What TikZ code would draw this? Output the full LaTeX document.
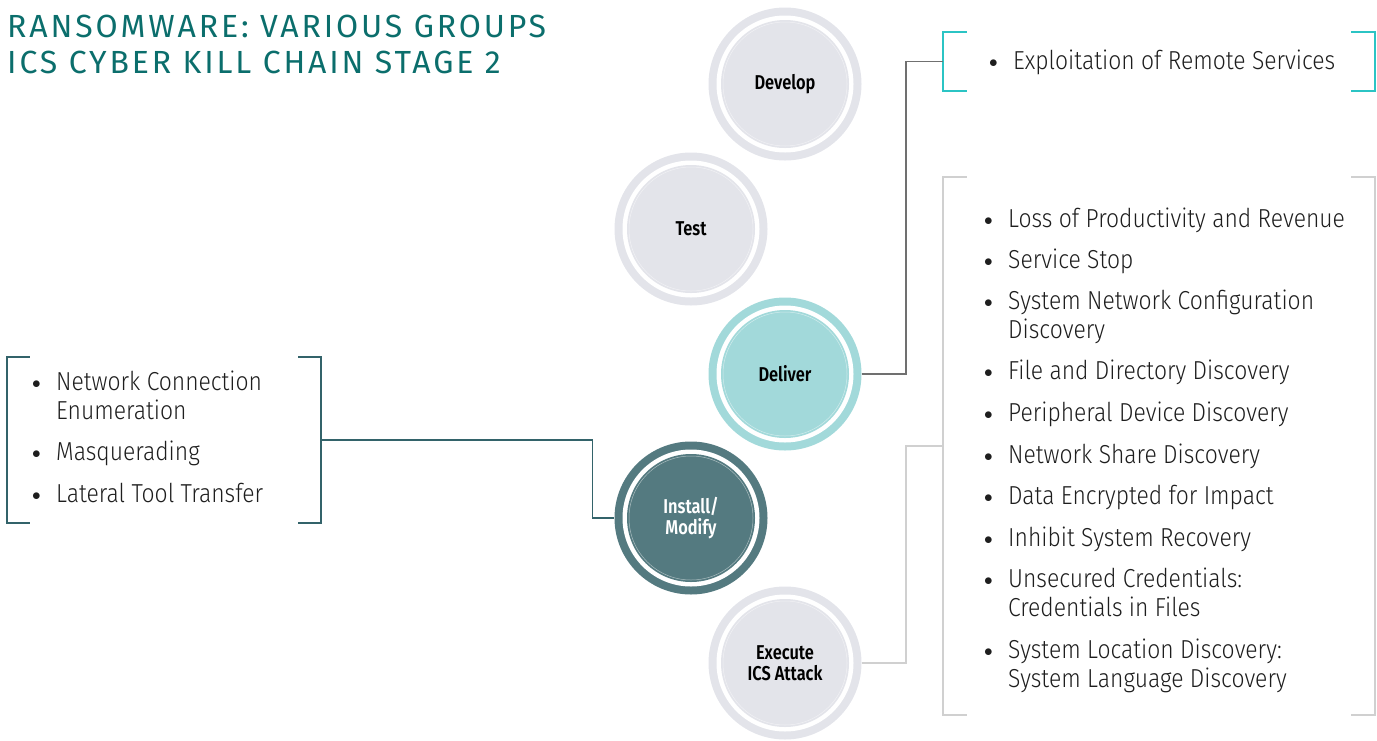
\documentclass[tikz,border=0pt]{standalone}
\usepackage{fontspec}
\setmainfont{Fira Sans}
\newfontfamily\bodyfont{Fira Sans Light}[FakeStretch=0.88]
\newfontfamily\labfont{Fira Sans SemiBold}[FakeStretch=0.82]
\newfontfamily\titlefont{Fira Sans}[LetterSpace=9]
\definecolor{titlecol}{HTML}{0B6E6C}
\definecolor{cyanbr}{HTML}{2BC4C4}
\definecolor{darkline}{HTML}{707070}
\definecolor{lightline}{HTML}{D0D0D0}
\definecolor{tealline}{HTML}{33636A}
\definecolor{greyc}{HTML}{E3E4EA}
\definecolor{delc}{HTML}{A2D9DA}
\definecolor{instc}{HTML}{547A80}
\definecolor{txt}{HTML}{1E1E1E}
\tikzset{
  stage/.style={circle, minimum size=153pt, inner sep=0pt, align=center,
    font=\labfont\fontsize{20}{21}\selectfont, text=black},
  item/.style={anchor=base west, inner sep=0pt, align=left, text=txt,
    font=\bodyfont\fontsize{26}{29}\selectfont},
  boxarea/.style={rectangle, inner sep=0pt},
  conn/.style={line width=1.5pt},
}
\newcommand{\stagedisc}[3]{%
  \fill[#2] (#1) circle (76.5pt);
  \fill[white] (#1) circle (68.5pt);
  \fill[#3] (#1) circle (64pt);
  \draw[white, opacity=0.5, line width=0.5pt] (#1) circle (62pt);
}
\newcommand{\bl}{\makebox[30pt][l]{\hspace*{6pt}\raisebox{2pt}{\fontsize{19}{19}\selectfont$\bullet$}}}
\newcommand{\ind}{\hspace*{30pt}}
\begin{document}
\begin{tikzpicture}[x=1pt, y=-1pt]
\useasboundingbox (0,0) rectangle (1377,740);

% title
\node[anchor=base west, inner sep=0pt, text=titlecol, font=\titlefont\fontsize{32}{36}\selectfont, align=left] (title) at (7,73) {RANSOMWARE: VARIOUS GROUPS\\ICS CYBER KILL CHAIN STAGE 2};

% stage circles
\stagedisc{785,84}{greyc}{greyc}
\stagedisc{691,229}{greyc}{greyc}
\stagedisc{785,374}{delc}{delc}
\stagedisc{691,518}{instc}{instc}
\stagedisc{785,663}{greyc}{greyc}
\node[stage] (dev) at (785,84) {Develop};
\node[stage] (tst) at (691,229) {Test};
\node[stage] (del) at (785,374) {Deliver};
\node[stage, text=white] (ins) at (691,518) {Install/\\Modify};
\node[stage] (exe) at (785,663) {Execute\\ICS Attack};

% boxes
\node[boxarea, minimum width=432pt, minimum height=59pt] (topbox) at (1159,61.5) {};
\node[boxarea, minimum width=432pt, minimum height=538pt] (bigbox) at (1159,446) {};
\node[boxarea, minimum width=314pt, minimum height=166pt] (lbox) at (164,440) {};

\draw[cyanbr, line width=1.5pt] ([xshift=24pt]topbox.north west) -- (topbox.north west) -- (topbox.south west) -- ([xshift=24pt]topbox.south west);
\draw[cyanbr, line width=1.5pt] ([xshift=-24pt]topbox.north east) -- (topbox.north east) -- (topbox.south east) -- ([xshift=-24pt]topbox.south east);
\draw[lightline, line width=1.5pt] ([xshift=24pt]bigbox.north west) -- (bigbox.north west) -- (bigbox.south west) -- ([xshift=24pt]bigbox.south west);
\draw[lightline, line width=1.5pt] ([xshift=-24pt]bigbox.north east) -- (bigbox.north east) -- (bigbox.south east) -- ([xshift=-24pt]bigbox.south east);
\draw[tealline, line width=1.5pt] ([xshift=23pt]lbox.north west) -- (lbox.north west) -- (lbox.south west) -- ([xshift=23pt]lbox.south west);
\draw[tealline, line width=1.5pt] ([xshift=-23pt]lbox.north east) -- (lbox.north east) -- (lbox.south east) -- ([xshift=-23pt]lbox.south east);

% connectors
\draw[conn, darkline] (del.east) -| ([xshift=-37pt]topbox.west) -- (topbox.west);
\draw[conn, lightline] (exe.east) -| ([xshift=-37pt]bigbox.west) -- (bigbox.west);
\draw[conn, tealline] (lbox.east) -| ([xshift=-22pt]ins.west) -- (ins.west);

% top box text
\node[item] (t1) at (983,69) {\bl Exploitation of Remote Services};

% big box text
\node[item] (b1) at (978,227) {\bl Loss of Productivity and Revenue};
\node[item] (b2) at (978,268) {\bl Service Stop};
\node[item] (b3) at (978,338) {\bl System Network Configuration\\\ind Discovery};
\node[item] (b4) at (978,379) {\bl File and Directory Discovery};
\node[item] (b5) at (978,421) {\bl Peripheral Device Discovery};
\node[item] (b6) at (978,463) {\bl Network Share Discovery};
\node[item] (b7) at (978,504) {\bl Data Encrypted for Impact};
\node[item] (b8) at (978,546) {\bl Inhibit System Recovery};
\node[item] (b9) at (978,616) {\bl Unsecured Credentials:\\\ind Credentials in Files};
\node[item] (b10) at (978,687) {\bl System Location Discovery:\\\ind System Language Discovery};

% left box text
\node[item] (l1) at (26,419) {\bl Network Connection\\\ind Enumeration};
\node[item] (l2) at (26,460) {\bl Masquerading};
\node[item] (l3) at (26,502) {\bl Lateral Tool Transfer};
\end{tikzpicture}
\end{document}
